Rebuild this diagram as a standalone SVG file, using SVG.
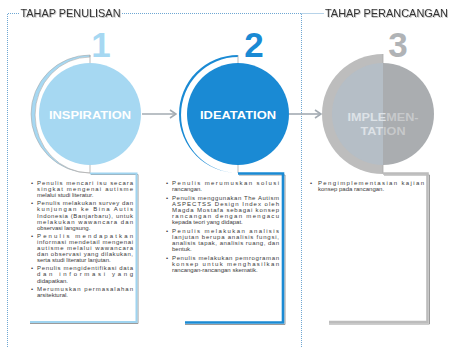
<svg xmlns="http://www.w3.org/2000/svg" width="450" height="347" viewBox="0 0 450 347">
<defs>
<style>
.frame{fill:none;stroke:#6fa7d3;stroke-width:1;stroke-dasharray:1 1}
.title{font-family:"Liberation Sans",Arial,sans-serif;font-size:10.5px;fill:#333}
.num{font-family:"Liberation Sans",Arial,sans-serif;font-size:35px;font-weight:bold;text-anchor:middle}
.lbl{font-family:"Liberation Sans",Arial,sans-serif;font-size:11px;font-weight:bold;fill:#fff;text-anchor:middle}
.b{font-family:"Liberation Sans",Arial,sans-serif;font-size:6px;fill:#3a3a3a}
.tick{stroke:#a9a9a9;stroke-width:0.8;fill:none}
.conn{stroke:#a3abb2;stroke-width:1.6;fill:none}
.shadow{fill:none;stroke:#9b9b9b;stroke-width:1}
</style>
<filter id="ts" x="-5%" y="-30%" width="110%" height="160%">
<feDropShadow dx="0.8" dy="0.8" stdDeviation="0.4" flood-color="#888" flood-opacity="0.6"/>
</filter>
<marker id="arr" markerWidth="8" markerHeight="10" refX="7" refY="5" orient="auto" markerUnits="userSpaceOnUse">
<path d="M1,1 L7,5 L1,9" fill="none" stroke="#a3abb2" stroke-width="1.6"/>
</marker>
</defs>
<rect width="450" height="347" fill="#fff"/>

<g id="frames">
<path class="frame" d="M7.5,347 V13.5 H19 M122,13.5 H301.5 V347 M301.5,13.5 H324"/>
<text class="title" x="20.5" y="17" textLength="100" lengthAdjust="spacingAndGlyphs" filter="url(#ts)">TAHAP PENULISAN</text>
<text class="title" x="325" y="17" textLength="123" lengthAdjust="spacingAndGlyphs" filter="url(#ts)">TAHAP PERANCANGAN</text>
</g>

<g id="connectors">
<line class="conn" x1="142" y1="114" x2="176" y2="114" marker-end="url(#arr)"/>
<line class="conn" x1="289" y1="114" x2="321" y2="114" marker-end="url(#arr)"/>
</g>

<g id="stage1">
<text class="num" x="101" y="57" fill="#a6d8f2">1</text>
<path d="M90,55 A59,59 0 0 0 90,173 A54,57 0 0 1 90,57 Z" fill="#a6d8f2" stroke="#a9a9a9" stroke-width="0.6"/>
<line class="tick" x1="90" y1="55" x2="90" y2="63"/>
<line class="tick" x1="90" y1="165" x2="90" y2="173"/>
<circle cx="90" cy="114" r="51" fill="#a6d8f2"/>
<text class="lbl" x="90" y="119" textLength="82" lengthAdjust="spacingAndGlyphs">INSPIRATION</text>
<path class="shadow" d="M91,174.5 H138 V323.5 H30"/>
<path d="M90,173.5 H136.5 V322 H30" fill="none" stroke="#9fd4f0" stroke-width="2"/>
<g class="b">
<text x="31" y="185">•</text>
<text x="37" y="185" textLength="96" lengthAdjust="spacing">Penulis mencari isu secara</text>
<text x="37" y="191.1" textLength="96" lengthAdjust="spacing">singkat mengenai autisme</text>
<text x="37" y="197.2">melalui studi literatur.</text>
<text x="31" y="205.3">•</text>
<text x="37" y="205.3" textLength="96" lengthAdjust="spacing">Penulis melakukan survey dan</text>
<text x="37" y="211.4" textLength="96" lengthAdjust="spacing">kunjungan ke Bina Autis</text>
<text x="37" y="217.5" textLength="96" lengthAdjust="spacing">Indonesia (Banjarbaru), untuk</text>
<text x="37" y="223.6" textLength="96" lengthAdjust="spacing">melakukan wawancara dan</text>
<text x="37" y="229.7">observasi langsung.</text>
<text x="31" y="237.8">•</text>
<text x="37" y="237.8" textLength="96" lengthAdjust="spacing">Penulis mendapatkan</text>
<text x="37" y="243.9" textLength="96" lengthAdjust="spacing">informasi mendetail mengenai</text>
<text x="37" y="250" textLength="96" lengthAdjust="spacing">autisme melalui wawancara</text>
<text x="37" y="256.1" textLength="96" lengthAdjust="spacing">dan observasi yang dilakukan,</text>
<text x="37" y="262.2">serta studi literatur lanjutan.</text>
<text x="31" y="270.3">•</text>
<text x="37" y="270.3" textLength="96" lengthAdjust="spacing">Penulis mengidentifikasi data</text>
<text x="37" y="276.4" textLength="96" lengthAdjust="spacing">dan informasi yang</text>
<text x="37" y="282.5">didapatkan.</text>
<text x="31" y="290.6">•</text>
<text x="37" y="290.6" textLength="96" lengthAdjust="spacing">Merumuskan permasalahan</text>
<text x="37" y="296.7">arsitektural.</text>
</g>
</g>

<g id="stage2">
<text class="num" x="254" y="57" fill="#1a8ad4">2</text>
<path d="M238,55 A59,59 0 0 0 238,173 A56,57 0 0 1 238,57 Z" fill="#1a8ad4"/>
<line class="tick" x1="238" y1="55" x2="238" y2="63"/>
<line class="tick" x1="238" y1="165" x2="238" y2="173"/>
<circle cx="238" cy="114" r="51" fill="#1a8ad4"/>
<text class="lbl" x="238" y="119" textLength="76" lengthAdjust="spacingAndGlyphs">IDEATATION</text>
<path class="shadow" d="M239,175 H285 V324.5 H185"/>
<path d="M238,173.5 H283 V322.5 H185" fill="none" stroke="#1a8ad4" stroke-width="2.6"/>
<g class="b">
<text x="166" y="185">•</text>
<text x="172" y="185" textLength="107" lengthAdjust="spacing">Penulis merumuskan solusi</text>
<text x="172" y="191.2">rancangan.</text>
<text x="166" y="199.6">•</text>
<text x="172" y="199.6" textLength="107" lengthAdjust="spacing">Penulis menggunakan The Autism</text>
<text x="172" y="205.8" textLength="107" lengthAdjust="spacing">ASPECTSS Design Index oleh</text>
<text x="172" y="212" textLength="107" lengthAdjust="spacing">Magda Mostafa sebagai konsep</text>
<text x="172" y="218.2" textLength="107" lengthAdjust="spacing">rancangan dengan mengacu</text>
<text x="172" y="224.4">kepada teori yang didapat.</text>
<text x="166" y="232.8">•</text>
<text x="172" y="232.8" textLength="107" lengthAdjust="spacing">Penulis melakukan analisis</text>
<text x="172" y="239" textLength="107" lengthAdjust="spacing">lanjutan berupa analisis fungsi,</text>
<text x="172" y="245.2" textLength="107" lengthAdjust="spacing">analisis tapak, analisis ruang, dan</text>
<text x="172" y="251.4">bentuk.</text>
<text x="166" y="259.8">•</text>
<text x="172" y="259.8" textLength="107" lengthAdjust="spacing">Penulis melakukan pemrograman</text>
<text x="172" y="266" textLength="107" lengthAdjust="spacing">konsep untuk menghasilkan</text>
<text x="172" y="272.2">rancangan-rancangan skematik.</text>
</g>
</g>

<g id="stage3">
<text class="num" x="398" y="57" fill="#b0b3b6">3</text>
<path d="M383,54 A61,60 0 0 0 383,174 Z" fill="#bdbdbd"/>
<line class="tick" x1="383" y1="54" x2="383" y2="63"/>
<path d="M383,63 A51,51 0 0 0 383,165 Z" fill="#b5bec6"/>
<path d="M383,63 A51,51 0 0 1 383,165 Z" fill="#aaadb0"/>
<line class="tick" x1="383" y1="165" x2="383" y2="173"/>
<text class="lbl" x="383" y="121" textLength="71" lengthAdjust="spacingAndGlyphs"><tspan fill="#dde2e7">IMPLE</tspan><tspan fill="#c7c9cb">MEN-</tspan></text>
<text class="lbl" x="383" y="135" textLength="45" lengthAdjust="spacingAndGlyphs"><tspan fill="#dde2e7">TAT</tspan><tspan fill="#c7c9cb">ION</tspan></text>
<path class="shadow" d="M384,175 H429.5 V324 H329" stroke="#a0a0a0"/>
<path d="M383,173.5 H427.5 V322 H329" fill="none" stroke="#bcbcbc" stroke-width="2.6"/>
<g class="b">
<text x="310" y="185">•</text>
<text x="318" y="185" textLength="106" lengthAdjust="spacing">Pengimplementasian kajian</text>
<text x="318" y="191.2">konsep pada rancangan.</text>
</g>
</g>
</svg>
